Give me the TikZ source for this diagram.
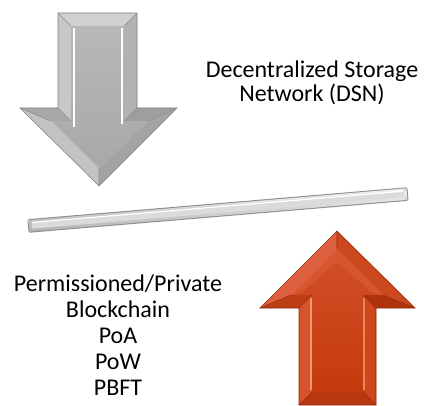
\documentclass[tikz,border=0pt]{standalone}
\usepackage{fontspec}
\setmainfont{Carlito}
\definecolor{rface}{HTML}{C43A0C}
\definecolor{rA}{RGB}{222,96,62}
\definecolor{rB}{RGB}{204,72,30}
\definecolor{rC}{RGB}{176,50,10}
\definecolor{rD}{RGB}{206,70,28}
\definecolor{rE}{RGB}{186,56,16}
\definecolor{rF}{RGB}{214,84,44}
\definecolor{rG}{RGB}{190,62,20}
\definecolor{rTop}{RGB}{210,80,40}
\definecolor{rHead}{RGB}{214,86,48}
\definecolor{rHiA}{RGB}{246,150,110}
\definecolor{rHiB}{RGB}{240,130,90}
\definecolor{rLine}{RGB}{150,40,10}
\definecolor{rOut}{RGB}{140,40,10}
\begin{document}
\begin{tikzpicture}[x=0.75pt,y=-0.75pt,
  lbl/.style={anchor=base,inner sep=0pt,font=\fontsize{18pt}{22pt}\selectfont},
  gedge/.style={draw=black!50,line width=0.4pt,line join=miter},
  hl/.style={line width=1.6pt,line cap=butt}]
\useasboundingbox (0,0) rectangle (424,406);
\fill[white] (0,0) rectangle (424,406);

% ---------- grey arrow (down) ----------
\coordinate (o1) at (58,13);  \coordinate (o2) at (137,13);
\coordinate (o3) at (137,108);\coordinate (o4) at (177,108);
\coordinate (o5) at (99,186); \coordinate (o6) at (20,108);
\coordinate (o7) at (58,108);
\coordinate (i1) at (71,26);  \coordinate (i2) at (124,26);
\coordinate (i3) at (124,121);\coordinate (i4) at (148,121);
\coordinate (i5) at (99,168); \coordinate (i6) at (51,121);
\coordinate (i7) at (71,121);
\fill[black!18] (o1)--(o2)--(i2)--(i1)--cycle;
\fill[black!30] (o2)--(o3)--(i3)--(i2)--cycle;
\fill[black!38] (o3)--(o4)--(i4)--(i3)--cycle;
\fill[black!36] (o4)--(o5)--(i5)--(i4)--cycle;
\fill[black!24] (o5)--(o6)--(i6)--(i5)--cycle;
\fill[black!34] (o6)--(o7)--(i7)--(i6)--cycle;
\fill[black!22] (o7)--(o1)--(i1)--(i7)--cycle;
\shade[top color=black!28,bottom color=black!34] (i1)--(i2)--(i3)--(i4)--(i5)--(i6)--(i7)--cycle;
\draw[white,hl] (74,28)--(74,127);
\draw[white,hl] (122,28)--(122,124);
\draw[black!45,line width=0.4pt] (o1)--(i1) (o2)--(i2) (o3)--(i3) (o4)--(i4) (o5)--(i5) (o6)--(i6) (o7)--(i7);
\draw[gedge] (o1)--(o2)--(o3)--(o4)--(o5)--(o6)--(o7)--cycle;

% ---------- bar ----------
\begin{scope}[shift={(28,226)},rotate=4.81]
  \fill[black!45,rounded corners=1.5] (0,-6.8) rectangle (381.3,6.8);
  \shade[top color=black!5,bottom color=black!30] (1,-5.8) rectangle (380.3,5.8);
  \fill[black!14] (4,-3) rectangle (377.3,3);
  \draw[white,line width=0.9pt] (4,-3.2)--(377.3,-3.2);
  \draw[black!30,line width=0.4pt] (1,-5.8)--(4,-3) (1,5.8)--(4,3) (380.3,-5.8)--(377.3,-3) (380.3,5.8)--(377.3,3);
\end{scope}

% ---------- red arrow (up) ----------
\coordinate (r1) at (337,231); \coordinate (r2) at (415,308);
\coordinate (r3) at (376,308); \coordinate (r4) at (376,405);
\coordinate (r5) at (299,405); \coordinate (r6) at (299,308);
\coordinate (r7) at (260,308);
\coordinate (j1) at (337,249); \coordinate (j2) at (383,295);
\coordinate (j3) at (363,295); \coordinate (j4) at (363,392);
\coordinate (j5) at (312,392); \coordinate (j6) at (312,295);
\coordinate (j7) at (291,295);
\fill[rA] (r7)--(r1)--(j1)--(j7)--cycle;
\fill[rB] (r1)--(r2)--(j2)--(j1)--cycle;
\fill[rC] (r2)--(r3)--(j3)--(j2)--cycle;
\fill[rD] (r3)--(r4)--(j4)--(j3)--cycle;
\fill[rE] (r4)--(r5)--(j5)--(j4)--cycle;
\fill[rF] (r5)--(r6)--(j6)--(j5)--cycle;
\fill[rG] (r6)--(r7)--(j7)--(j6)--cycle;
\shade[top color=rTop,bottom color=rface] (j1)--(j2)--(j3)--(j4)--(j5)--(j6)--(j7)--cycle;
\fill[rHead] (j1)--(j2)--(372,292)--(337,262)--(302,292)--(j7)--cycle;
\draw[rHiA,hl] (311,298)--(311,390);
\draw[rHiB,hl] (364,298)--(364,390);
\draw[rLine,line width=0.4pt] (r1)--(j1) (r2)--(j2) (r3)--(j3) (r4)--(j4) (r5)--(j5) (r6)--(j6) (r7)--(j7);
\draw[rOut,line width=0.4pt] (r1)--(r2)--(r3)--(r4)--(r5)--(r6)--(r7)--cycle;

% ---------- texts ----------
\node[lbl] (dsn1) at (312,78) {Decentralized Storage};
\node[lbl] (dsn2) at (312,102) {Network (DSN)};
\node[lbl] (pb1) at (118,291) {Permissioned/Private};
\node[lbl] (pb2) at (118,317) {Blockchain};
\node[lbl] (pb3) at (118,343) {PoA};
\node[lbl] (pb4) at (118,369) {PoW};
\node[lbl] (pb5) at (118,395) {PBFT};
\end{tikzpicture}
\end{document}
